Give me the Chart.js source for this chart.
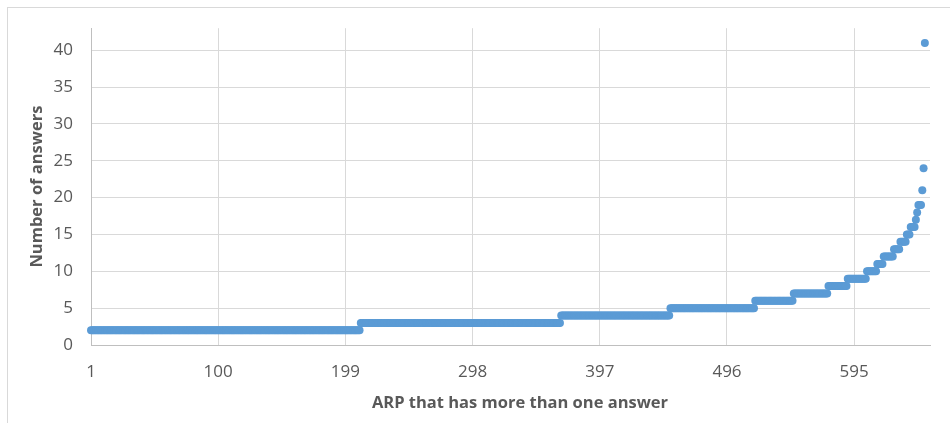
<!DOCTYPE html>
<html>
<head>
<meta charset="utf-8">
<script src="https://cdn.jsdelivr.net/npm/chart.js@4"></script>
<style>
  html, body { margin: 0; padding: 0; background: #ffffff; }
  #wrap { position: relative; width: 950px; height: 423px; overflow: hidden; }
  #frame { position: absolute; left: 7px; top: 7px; width: 1000px; height: 1000px; border: 1px solid #d9d9d9; box-sizing: border-box; }
  canvas { position: absolute; left: 0; top: 0; }
</style>
</head>
<body>
<div id="wrap">
  <div id="frame"></div>
  <canvas id="c" width="950" height="423"></canvas>
</div>
<script>
// Number of answers per ARP, sorted ascending (run-length: value and how many ARPs have it)
const stepValues = [2, 3, 4, 5, 6, 7, 8, 9, 10, 11, 12, 13, 14, 15, 16, 17, 18, 19, 21, 24, 41];
const stepCounts = [210, 156, 85, 66, 30, 27, 15, 15, 8, 5, 8, 5, 5, 3, 4, 1, 1, 3, 1, 1, 1];
const categoryCount = 654;
const xTickLabels = ['1', '100', '199', '298', '397', '496', '595'];
const yTickValues = [0, 5, 10, 15, 20, 25, 30, 35, 40];
const yMax = 43;
const xTitle = 'ARP that has more than one answer';
const yTitle = 'Number of answers';

const categories = [];
for (let i = 1; i <= categoryCount; i++) categories.push(String(i));
const answers = [];
stepValues.forEach((v, k) => { for (let j = 0; j < stepCounts[k]; j++) answers.push(v); });

const textColor = '#595959';
const gridColor = '#d9d9d9';
const axisColor = '#bfbfbf';
const FONT = "'Open Sans', 'Noto Sans', sans-serif";

// x-axis title centred on the chart area (as in the original), not on the plot area
const xTitlePlugin = {
  id: 'xTitle',
  afterDraw(chart) {
    const ctx = chart.ctx;
    ctx.save();
    ctx.font = "bold 16.5px " + FONT;
    ctx.fillStyle = textColor;
    ctx.textAlign = 'center';
    ctx.textBaseline = 'middle';
    ctx.fillText(xTitle, 520, 403);
    ctx.restore();
  }
};

new Chart(document.getElementById('c'), {
  type: 'line',
  data: {
    labels: categories,
    datasets: [{
      data: answers,
      showLine: false,
      pointRadius: 4,
      pointHoverRadius: 4,
      pointBackgroundColor: '#5b9bd5',
      pointBorderColor: '#5b9bd5',
      pointBorderWidth: 0
    }]
  },
  plugins: [xTitlePlugin],
  options: {
    responsive: false,
    animation: false,
    devicePixelRatio: 1,
    events: [],
    layout: { padding: { left: 8, top: 27, right: 20, bottom: 0 } },
    plugins: { legend: { display: false }, tooltip: { enabled: false } },
    scales: {
      x: {
        type: 'category',
        offset: false,
        afterBuildTicks: s => { s.ticks = s.ticks.filter(t => xTickLabels.includes(categories[t.value])); },
        afterFit: s => { s.height = 78; },
        grid: { color: gridColor, lineWidth: 1, drawTicks: false, offset: false },
        border: { color: axisColor, width: 1 },
        ticks: { color: textColor, font: { family: FONT, size: 17 }, padding: 17, maxRotation: 0, autoSkip: false },
        title: { display: false }
      },
      y: {
        min: 0,
        max: yMax,
        afterBuildTicks: s => { s.ticks = yTickValues.map(v => ({ value: v })); },
        afterFit: s => { s.width = 83; },
        grid: { color: gridColor, lineWidth: 1, drawTicks: false },
        border: { color: axisColor, width: 1 },
        ticks: { color: textColor, font: { family: FONT, size: 17 }, padding: 18 },
        title: { display: true, text: yTitle, color: textColor, font: { family: FONT, size: 16.5, weight: 'bold' }, padding: { top: 19, bottom: 0 } }
      }
    }
  }
});
</script>
</body>
</html>
